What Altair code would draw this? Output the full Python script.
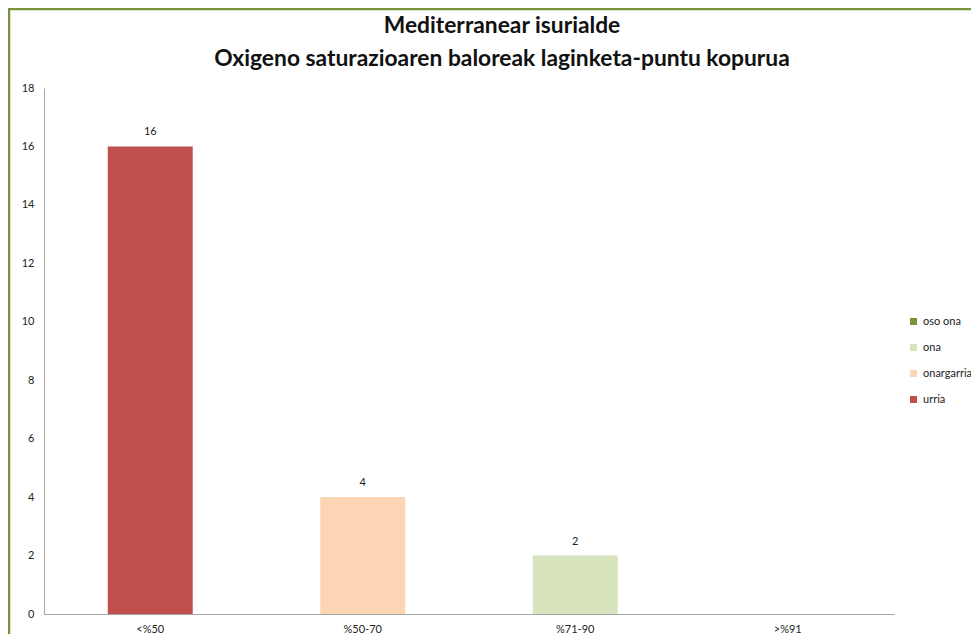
import altair as alt
import pandas as pd

categories = ["<%50", "%50-70", "%71-90", ">%91"]
values = [16, 4, 2, 0]
classes = ["urria", "onargarria", "ona", "oso ona"]

legend_order = ["oso ona", "ona", "onargarria", "urria"]
legend_colors = ["#77933C", "#D7E4BD", "#FCD5B5", "#C0504D"]

df = pd.DataFrame({"cat": categories, "value": values, "klase": classes})

FONT = "Lato"

x_enc = alt.X("cat:N", sort=categories, title=None,
              scale=alt.Scale(domain=categories, paddingInner=0.6, paddingOuter=0.3),
              axis=alt.Axis(labelAngle=0, ticks=False, domainColor="#a6a6a6",
                            labelFontSize=11, labelColor="#222", labelPadding=9,
                            labelFont=FONT))
y_enc = alt.Y("value:Q", title=None,
              scale=alt.Scale(domain=[0, 18], nice=False),
              axis=alt.Axis(values=list(range(0, 19, 2)), grid=False, ticks=False,
                            domainColor="#a6a6a6", labelFontSize=11, labelColor="#222",
                            labelPadding=10, labelFont=FONT))

base = alt.Chart(df).transform_filter("datum.value > 0")

bars = base.mark_bar().encode(
    x=x_enc, y=y_enc,
    color=alt.Color("klase:N", title=None,
                    scale=alt.Scale(domain=legend_order, range=legend_colors),
                    legend=alt.Legend(orient="none", legendX=864, legendY=228,
                                      symbolType="square", symbolSize=49,
                                      symbolStrokeWidth=0, labelFontSize=11,
                                      labelFont=FONT, labelColor="#222",
                                      rowPadding=14, labelOffset=4)),
)

labels = base.mark_text(dy=-14, fontSize=11, font=FONT, color="#222").encode(
    x=alt.X("cat:N", sort=categories), y="value:Q", text="value:Q")

frame = alt.Chart(pd.DataFrame({"a": [0]})).mark_rect(
    fill=None, stroke="#77933C", strokeWidth=2.5).encode(
    x=alt.value(-35), x2=alt.value(1000), y=alt.value(-79), y2=alt.value(700))

chart = alt.layer(frame, bars, labels).properties(
    width=850, height=526,
    padding={"left": 36, "top": 80, "right": 77, "bottom": 20},
    autosize=alt.AutoSizeParams(type="none"),
    title=alt.TitleParams(
        ["Mediterranear isurialde", "Oxigeno saturazioaren baloreak laginketa-puntu kopurua"],
        font=FONT, fontSize=22.8, fontWeight="bold", color="#111", lineHeight=33,
        anchor="middle", dx=33, offset=-63),
).configure_view(stroke=None)

chart.save("out.html", embed_options={"renderer": "svg", "actions": False})
